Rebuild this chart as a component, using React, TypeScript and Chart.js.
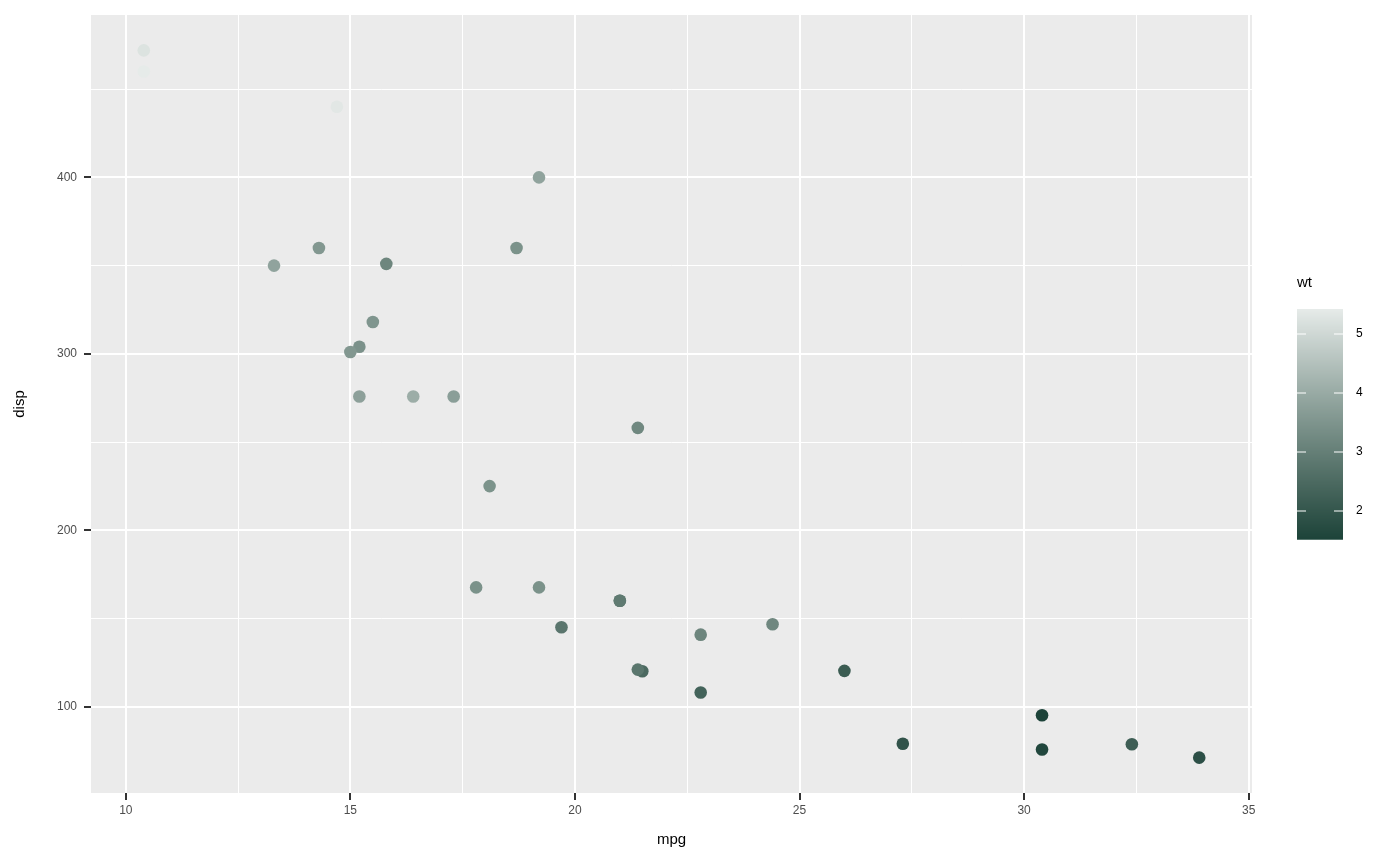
import React, { useEffect, useRef } from "react";
import { Chart, registerables } from "chart.js";

Chart.register(...registerables);

const mpg = [21.0, 21.0, 22.8, 21.4, 18.7, 18.1, 14.3, 24.4, 22.8, 19.2, 17.8, 16.4, 17.3, 15.2, 10.4, 10.4, 14.7, 32.4, 30.4, 33.9, 21.5, 15.5, 15.2, 13.3, 19.2, 27.3, 26.0, 30.4, 15.8, 19.7, 15.0, 21.4];
const disp = [160, 160, 108, 258, 360, 225, 360, 146.7, 140.8, 167.6, 167.6, 275.8, 275.8, 275.8, 472, 460, 440, 78.7, 75.7, 71.1, 120.1, 318, 304, 350, 400, 79, 120.3, 95.1, 351, 145, 301, 121];
const wt = [2.62, 2.875, 2.32, 3.215, 3.44, 3.46, 3.57, 3.19, 3.15, 3.44, 3.44, 4.07, 3.73, 3.78, 5.25, 5.424, 5.345, 2.2, 1.615, 1.835, 2.465, 3.52, 3.435, 3.84, 3.845, 1.935, 2.14, 1.513, 3.17, 2.77, 3.57, 2.78];
const xTicks = [10, 15, 20, 25, 30, 35];
const yTicks = [100, 200, 300, 400];
const legendTicks = [2, 3, 4, 5];

const LOW = "#1C4339";
const HIGH = "#E6EBE9";

function hexToRgb(h: string) {
  const n = parseInt(h.slice(1), 16);
  return [(n >> 16) & 255, (n >> 8) & 255, n & 255];
}
function toLin(c: number) {
  c /= 255;
  return c <= 0.04045 ? c / 12.92 : Math.pow((c + 0.055) / 1.055, 2.4);
}
function fromLin(c: number) {
  const v = c <= 0.0031308 ? 12.92 * c : 1.055 * Math.pow(c, 1 / 2.4) - 0.055;
  return Math.max(0, Math.min(255, Math.round(v * 255)));
}
const Xn = 0.95047, Yn = 1.0, Zn = 1.08883;
function f(t: number) { return t > 216 / 24389 ? Math.cbrt(t) : (24389 / 27 * t + 16) / 116; }
function fi(t: number) { return t * t * t > 216 / 24389 ? t * t * t : (116 * t - 16) / (24389 / 27); }
function rgbToLab(rgb: number[]) {
  const [r, g, b] = rgb.map(toLin);
  const X = 0.4124 * r + 0.3576 * g + 0.1805 * b;
  const Y = 0.2126 * r + 0.7152 * g + 0.0722 * b;
  const Z = 0.0193 * r + 0.1192 * g + 0.9505 * b;
  const fx = f(X / Xn), fy = f(Y / Yn), fz = f(Z / Zn);
  return [116 * fy - 16, 500 * (fx - fy), 200 * (fy - fz)];
}
function labToRgb(lab: number[]) {
  const fy = (lab[0] + 16) / 116;
  const fx = fy + lab[1] / 500;
  const fz = fy - lab[2] / 200;
  const X = fi(fx) * Xn, Y = fi(fy) * Yn, Z = fi(fz) * Zn;
  const r = 3.2406 * X - 1.5372 * Y - 0.4986 * Z;
  const g = -0.9689 * X + 1.8758 * Y + 0.0415 * Z;
  const b = 0.0557 * X - 0.204 * Y + 1.057 * Z;
  return [fromLin(r), fromLin(g), fromLin(b)];
}
const labLow = rgbToLab(hexToRgb(LOW));
const labHigh = rgbToLab(hexToRgb(HIGH));
const wMin = Math.min(...wt);
const wMax = Math.max(...wt);
function colorFor(v: number) {
  const t = Math.max(0, Math.min(1, (v - wMin) / (wMax - wMin)));
  const lab = labLow.map((c, i) => c + (labHigh[i] - c) * t);
  const [r, g, b] = labToRgb(lab);
  return `rgb(${r},${g},${b})`;
}

const FONT = "'Liberation Sans', Arial, sans-serif";

const bgPlugin = {
  id: "bg",
  beforeDraw(chart: any) {
    const { ctx, chartArea: a } = chart;
    ctx.save();
    ctx.fillStyle = "#ffffff";
    ctx.fillRect(0, 0, chart.width, chart.height);
    ctx.fillStyle = "#EBEBEB";
    ctx.fillRect(a.left, a.top, a.right - a.left, a.bottom - a.top);
    ctx.restore();
  },
};

const legendPlugin = {
  id: "colorbar",
  afterDraw(chart: any) {
    const ctx = chart.ctx;
    const bx = 1297, bw = 46;
    const yOf = (v: number) => 334 - (v - 5) * 59;
    const top = yOf(wMax), bot = yOf(wMin);
    ctx.save();
    ctx.font = `15px ${FONT}`;
    ctx.fillStyle = "#000";
    ctx.textBaseline = "middle";
    ctx.textAlign = "left";
    ctx.fillText("wt", 1297, 283);
    for (let y = Math.floor(top); y < Math.ceil(bot); y++) {
      const v = 5 - (y + 0.5 - 334) / 59;
      ctx.fillStyle = colorFor(v);
      const y0 = Math.max(y, top), y1 = Math.min(y + 1, bot);
      ctx.fillRect(bx, y0, bw, y1 - y0);
    }
    ctx.strokeStyle = "#ffffff";
    ctx.lineWidth = 1.2;
    ctx.font = `12px ${FONT}`;
    ctx.fillStyle = "#000";
    for (const t of legendTicks) {
      const y = yOf(t);
      ctx.beginPath();
      ctx.moveTo(bx, y);
      ctx.lineTo(bx + 9, y);
      ctx.moveTo(bx + bw - 9, y);
      ctx.lineTo(bx + bw, y);
      ctx.stroke();
      ctx.fillText(String(t), 1356, y);
    }
    ctx.restore();
  },
};

export default function App() {
  const ref = useRef<HTMLCanvasElement>(null);
  useEffect(() => {
    if (!ref.current) return;
    const pts = mpg.map((m, i) => ({ x: m, y: disp[i] }));
    const colors = wt.map(colorFor);
    const chart = new Chart(ref.current, {
      type: "scatter",
      data: {
        datasets: [
          {
            data: pts,
            pointRadius: 6.3,
            pointHoverRadius: 6.3,
            pointBorderWidth: 0,
            pointBackgroundColor: colors,
            pointBorderColor: colors,
          },
        ],
      },
      options: {
        animation: false,
        responsive: false,
        devicePixelRatio: 1,
        events: [],
        layout: { padding: { top: 15, right: 148, left: 0, bottom: 0 } },
        plugins: { legend: { display: false }, tooltip: { enabled: false } },
        scales: {
          x: {
            type: "linear",
            min: 9.225,
            max: 35.075,
            afterFit(s: any) { s.height = 73; },
            afterBuildTicks(s: any) {
              const t = [];
              for (let v = 10; v <= 35; v += 2.5) t.push({ value: v });
              s.ticks = t;
            },
            border: { display: false },
            grid: {
              color: "#ffffff",
              lineWidth: (c: any) => (c.tick && c.tick.value % 5 === 0 ? 2 : 1),
              tickColor: (c: any) => (c.tick && c.tick.value % 5 === 0 ? "#333333" : "rgba(0,0,0,0)"),
              tickLength: 7,
              tickWidth: 2,
            },
            ticks: {
              autoSkip: false,
              maxRotation: 0,
              padding: 3,
              color: "#4D4D4D",
              font: { family: FONT, size: 12 },
              callback: (v: any) => (xTicks.includes(Number(v)) ? String(v) : ""),
            },
            title: {
              display: true,
              text: "mpg",
              color: "#000",
              font: { family: FONT, size: 15 },
              padding: { top: 0, bottom: 17 },
            },
          },
          y: {
            type: "linear",
            min: 51.055,
            max: 492.045,
            afterFit(s: any) { s.width = 91; },
            afterBuildTicks(s: any) {
              const t = [];
              for (let v = 100; v <= 450; v += 50) t.push({ value: v });
              s.ticks = t;
            },
            border: { display: false },
            grid: {
              color: "#ffffff",
              lineWidth: (c: any) => (c.tick && c.tick.value % 100 === 0 ? 2 : 1),
              tickColor: (c: any) => (c.tick && c.tick.value % 100 === 0 ? "#333333" : "rgba(0,0,0,0)"),
              tickLength: 7,
              tickWidth: 2,
            },
            ticks: {
              autoSkip: false,
              padding: 7,
              color: "#4D4D4D",
              font: { family: FONT, size: 12 },
              callback: (v: any) => (yTicks.includes(Number(v)) ? String(v) : ""),
            },
            title: {
              display: true,
              text: "disp",
              color: "#000",
              font: { family: FONT, size: 15 },
              padding: { top: 11, bottom: 0 },
            },
          },
        },
      },
      plugins: [bgPlugin, legendPlugin],
    } as any);
    return () => chart.destroy();
  }, []);
  return (
    <div style={{ position: "absolute", left: 0, top: 0, width: 1400, height: 866 }}>
      <canvas ref={ref} width={1400} height={866} style={{ width: 1400, height: 866, display: "block" }} />
    </div>
  );
}
